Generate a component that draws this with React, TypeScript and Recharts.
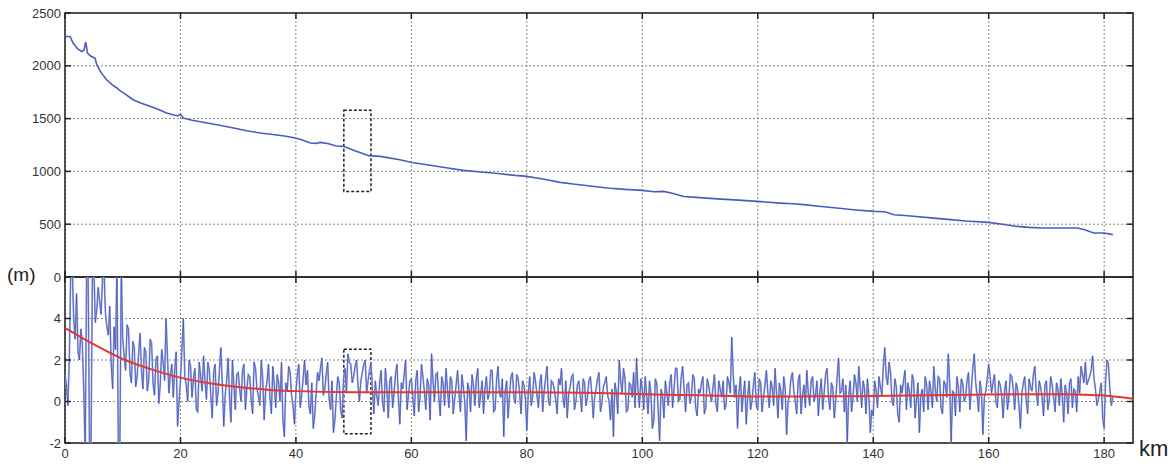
import React from 'react';
import { LineChart, Line, XAxis, YAxis, CartesianGrid, ReferenceArea } from 'recharts';

const kmTicks = [0, 20, 40, 60, 80, 100, 120, 140, 160, 180];
const elevTicks = [0, 500, 1000, 1500, 2000, 2500];
const diffTicks = [-2, 0, 2, 4, 6];

// elevation profile (m) along the route (km)
const elevKm = [0, 0.9, 1.4, 2.2, 2.9, 3.3, 3.6, 3.9, 4.5, 5.2, 5.5, 6.2, 7.2, 8.2, 9.0, 9.4, 10.5, 11.8, 13, 14.7,
  16, 17.6, 19.5, 20, 20.5, 22, 24.6, 27, 29.2, 31.5, 33.8, 36, 38, 39.9, 41, 42.5, 43.5, 44.2, 45.5, 47,
  48.2, 50, 52.6, 54.6, 58, 60.1, 63, 66, 69, 72, 75, 78, 80, 83, 85.8, 88, 91, 93.9, 97, 100,
  102, 103.7, 105, 107.2, 110, 113, 116, 119.9, 123.9, 126, 128, 131, 133.7, 137, 140.1, 142, 143.6, 146, 150, 153.4,
  156, 160, 163, 164.9, 167, 169.5, 175.3, 176.5, 178.2, 180, 181.5];
const elevM = [2280, 2275, 2216, 2160, 2136, 2150, 2225, 2120, 2090, 2074, 2010, 1940, 1868, 1820, 1790, 1770, 1730, 1679, 1650, 1616,
  1590, 1553, 1525, 1540, 1505, 1485, 1458, 1435, 1411, 1385, 1364, 1350, 1335, 1316, 1300, 1269, 1265, 1275, 1265, 1240,
  1237, 1200, 1149, 1142, 1111, 1085, 1060, 1035, 1010, 995, 980, 962, 953, 925, 896, 880, 862, 843, 830, 820,
  808, 811, 795, 763, 752, 740, 730, 716, 700, 693, 685, 668, 653, 635, 621, 618, 590, 580, 560, 543,
  530, 517, 495, 479, 470, 464, 464, 450, 417, 417, 401];

// residual (m), read every 0.5 km from 0 km
const diffStep = 0.5;
const diffM = [
  1.3, -0.2, 6.5, 4.0, 5.2, 2.0, 2.8, -2.5, 6.5, -2.5, 6.5, 4.4, 4.8, 5.9, 4.3, 3.2, 1.8, 3.6, 6.5, -2.5,
  3.0, 1.5, 3.5, 0.9, 2.6, 1.2, 3.3, 0.6, 2.4, 1.0, 2.8, 0.3, 2.2, 0.8, 1.9, 4.0, 0.4, 1.8, 1.5, -1.2,
  1.0, 4.0, 0.8, 2.0, 0.2, 1.6, -0.5, 1.2, 2.2, 0.1, 1.5, -0.8, 1.8, 0.4, 2.6, -1.2, 1.0, 0.2, 2.0, -0.4,
  1.4, 0.0, 1.8, 0.6, 1.2, -0.6, 1.6, 0.3, 2.0, -0.9, 1.0, 0.2, 1.7, -0.3, 0.9, 1.9, -1.7, 0.5, 1.4, -0.2,
  0.5, 1.8, 0.3, 2.0, 1.5, -0.6, -1.3, 0.4, 1.0, 2.1, 0.6, 1.9, -0.4, -1.5, 0.2, 0.9, -0.8, 1.6, 2.3, 1.8,
  1.2, 2.0, 0.0, 1.4, 2.0, 1.0, 1.9, -0.6, 0.3, 0.9, 0.0, 1.6, -0.8, 1.2, 0.4, 1.8, -1.1, 0.6, 2.0, 0.3,
  1.1, -0.7, 1.5, 0.2, 1.2, -0.4, 0.8, 2.3, 0.0, 1.4, -0.7, 0.9, 1.6, -0.3, 1.0, 0.1, 1.5, -0.5, 0.7, -1.9,
  0.6, 1.3, -0.2, 1.6, 0.3, -0.6, 1.2, 0.4, 1.5, -0.4, 1.7, 0.2, -1.7, 1.0, 0.3, 1.4, -0.1, 1.1, -0.6, 0.8,
  -1.4, 1.2, 0.2, 1.0, -0.3, 1.3, 0.5, 1.7, -0.2, 0.9, 0.1, 1.1, 1.6, -0.3, -0.8, 0.7, 1.3, 0.0, 1.0, -0.5,
  0.9, 0.2, 1.2, -0.8, 0.6, 1.4, -0.1, 0.9, 0.3, -0.9, -1.7, 0.5, 2.0, 0.4, 1.1, -0.4, 0.8, 1.4, 2.1, -0.3,
  0.6, 1.2, -0.6, 0.4, -0.9, 0.9, -1.9, 0.3, 1.0, -0.2, 1.3, 0.6, 1.6, 0.1, 1.7, -0.5, 0.9, 0.2, 1.1, -0.7,
  0.4, 1.2, -0.3, 0.8, 0.0, 1.3, -0.5, 0.6, 1.0, -0.2, 0.9, 3.1, 0.2, -1.3, 1.2, 0.3, -1.1, 1.0, 0.0, 1.4,
  -0.4, 0.9, 0.2, 1.5, -0.3, 0.7, 1.6, -0.8, 0.5, 1.2, -1.6, 0.3, 1.4, 0.0, 1.0, -0.6, 0.8, 1.5, -0.2, 1.2,
  0.3, -0.7, 1.1, 0.4, 1.6, -0.4, 0.7, 0.0, 2.1, 0.5, -0.5, -2.0, 1.0, 0.2, 0.9, 1.7, -0.3, 0.6, 1.1, -1.5,
  -0.7, 0.5, 1.2, 0.3, 2.6, 0.8, 1.4, -0.2, 0.7, -1.0, 0.4, 1.5, 0.9, -0.3, 1.0, 0.1, -1.5, 0.6, 1.2, -0.4,
  0.5, 1.7, 0.0, 1.1, -0.6, 0.8, 2.3, -2.0, 0.4, 1.2, -0.5, 0.9, 0.2, 1.4, 0.6, 2.3, 0.3, 1.0, -1.6, 0.5,
  1.8, 0.4, 1.3, -0.3, 0.8, -0.8, 1.0, 0.2, 1.2, -0.4, 0.6, -1.3, 0.9, 0.1, 1.1, 0.5, 1.7, -0.2, 0.7, -0.7,
  1.0, 0.1, 0.8, -0.5, 0.6, 1.1, -1.0, 0.4, 0.9, -0.3, 0.5, 1.2, 1.7, 0.9, 0.8, 1.2, 2.2, 0.6, 0.1, 0.9,
  -1.3, 2.0, 0.6, 0.2,
];
// residual (m), read between those, at 0.25 km + every 0.5 km
const diffMidM = [
  0.8, 2.0, 6.5, 3.0, 2.4, 3.5, 0.5, 6.5, -2.5, 6.5, 3.8, 5.5, 4.2, 6.5, 3.6, 4.6, 0.6, 2.5, -2.5, 6.5,
  2.2, 3.7, 1.4, 2.9, 0.7, 2.3, 1.5, 2.6, 0.5, 3.0, 0.9, 2.0, -0.1, 2.5, 1.0, 2.2, 1.3, 0.2, 2.4, 0.0,
  2.5, 1.2, 0.0, 1.7, 1.1, -0.4, 1.9, 0.5, 1.0, 1.9, 0.3, 1.4, -0.2, 1.5, 0.8, 0.3, 2.1, -1.0, 0.8, 1.3,
  0.6, 1.5, -0.4, 1.3, 0.1, 1.9, 0.6, -0.2, 1.1, 0.5, 1.8, -0.6, 0.8, 1.3, 0.0, -0.9, 0.9, 1.7, 0.3, -1.1,
  1.3, -0.3, 1.1, 0.8, -0.2, 0.9, -0.7, 1.4, 1.6, 0.3, 1.3, 0.1, 1.0, -0.9, 1.2, -0.4, 1.1, 0.4, 1.9, 0.9,
  1.7, 0.8, 1.0, 1.8, 0.4, 1.5, 0.6, 1.0, -0.2, 1.5, -0.5, 0.7, 1.0, -0.3, 1.3, 0.2, 0.9, 1.3, -0.4, 1.0,
  0.2, 1.0, -0.5, 1.8, 0.5, 1.1, -0.9, 1.0, 1.3, 0.2, 1.2, -0.2, 0.6, 1.2, -0.6, 0.8, 0.4, 1.3, 0.0, 0.9,
  -0.5, 0.8, 1.1, -0.3, 1.0, 0.6, 0.1, 1.5, -0.5, 1.0, 0.4, 1.1, 0.5, -0.8, 1.2, 0.2, 1.3, 0.4, 1.0, 0.1,
  0.4, -0.2, 1.4, 0.3, 0.9, -0.5, 1.1, 0.0, 1.0, 0.6, -0.6, 0.8, 0.2, 1.0, 0.4, 1.2, -0.4, 0.8, 0.3, 1.1,
  -0.2, 1.0, 0.4, 0.2, 1.1, -0.5, 0.7, 1.2, 0.0, 0.6, 0.9, -0.6, 1.0, 1.6, -0.5, 0.9, 0.2, -0.3, 0.6, 1.1,
  -0.4, 0.3, 1.0, -1.3, 1.1, -0.4, 0.6, -0.8, 0.4, 0.9, -0.3, 1.6, 0.0, 1.2, 0.5, 0.8, -0.1, 1.3, -0.3, 0.6,
  0.9, -0.6, 1.1, 0.3, 0.7, -0.1, 1.0, 0.2, -0.4, 1.2, 0.4, 1.3, 0.8, 0.5, -0.5, 1.0, 0.2, -0.4, 0.8, -0.2,
  1.1, -0.5, 0.8, 0.4, 1.0, -0.2, 0.4, 0.9, -0.4, 0.6, 0.0, 1.1, 0.5, -0.6, 1.3, 0.3, -0.3, 0.4, 1.0, 0.0,
  1.0, 0.4, -0.4, 1.3, 0.2, 0.9, -0.8, 1.2, 0.4, 1.1, 0.8, 0.3, -0.5, 1.3, 0.0, 0.7, 1.0, -0.6, 0.3, -0.4,
  1.0, -0.3, 0.7, 1.7, 1.2, 1.9, 0.0, 1.1, -0.6, 0.8, 1.0, -0.4, 0.5, 1.3, -0.8, 0.9, 0.3, -0.5, 0.8, 1.0,
  -0.3, 0.6, 1.2, -0.3, 1.0, 0.2, 0.9, 0.5, -0.7, 0.7, 1.1, 0.0, 1.0, -0.4, 1.6, 0.9, -0.5, 0.5, 0.2, 1.1,
  1.2, 0.9, 0.0, 1.0, 0.3, 0.5, -0.4, 1.3, 0.6, 0.9, -0.2, 0.4, 1.2, -0.6, 0.7, 1.3, 0.4, 1.0, 0.2, 0.8,
  -0.4, 1.2, 0.2, 0.9, -0.2, 0.3, 0.8, -0.6, 1.1, 0.6, -0.5, 0.4, 1.3, 1.9, 1.0, 1.5, 1.1, -0.2, 0.5, -0.8,
  1.0, 1.8, -0.2,
];

// fitted trend of the residual
const trendKm = [0, 5, 10, 15, 20, 25, 30, 35, 40, 50, 60, 80, 90, 100, 110, 120, 130, 140, 150, 160, 170, 175, 180, 185];
const trendM = [3.55, 2.75, 2.05, 1.55, 1.15, 0.88, 0.7, 0.57, 0.5, 0.45, 0.44, 0.44, 0.42, 0.35, 0.3, 0.24, 0.25, 0.26, 0.3, 0.34, 0.35, 0.34, 0.29, 0.13];

// highlighted section
const boxKm = [48.3, 53];
const boxElev = [810, 1578];
const boxDiff = [-1.56, 2.52];

const elevData = elevKm.map((km, i) => ({ km, v: elevM[i] }));
const diffData: { km: number; v: number }[] = [];
diffM.forEach((v, i) => {
  diffData.push({ km: i * diffStep, v });
  if (i < diffMidM.length) diffData.push({ km: i * diffStep + diffStep / 2, v: diffMidM[i] });
});
const trendData = trendKm.map((km, i) => ({ km, v: trendM[i] }));

const font = "'Liberation Sans', Arial, sans-serif";
const PLOT_L = 65;
const PLOT_R = 1133;
const ink = '#222';

const xTick = (top: number, bottom: number, labels: boolean) => (props: any) => {
  const { x, payload } = props;
  return (
    <g>
      <line x1={x} x2={x} y1={top} y2={top + 6} stroke={ink} strokeWidth={1.5} />
      <line x1={x} x2={x} y1={bottom} y2={bottom - 6} stroke={ink} strokeWidth={1.5} />
      {labels && (
        <text x={x} y={bottom + 15} textAnchor="middle" fontFamily={font} fontSize={13} fill="#333">
          {payload.value}
        </text>
      )}
    </g>
  );
};

const yTick = (hide: (v: number) => boolean) => (props: any) => {
  const { y, payload } = props;
  return (
    <g>
      <line x1={PLOT_L} x2={PLOT_L + 6} y1={y} y2={y} stroke={ink} strokeWidth={1.5} />
      <line x1={PLOT_R - 6} x2={PLOT_R} y1={y} y2={y} stroke={ink} strokeWidth={1.5} />
      {!hide(payload.value) && (
        <text x={PLOT_L - 4} y={y} dy="0.35em" textAnchor="end" fontFamily={font} fontSize={13} fill="#333">
          {payload.value}
        </text>
      )}
    </g>
  );
};

export default function App() {
  return (
    <div style={{ position: 'absolute', left: 0, top: 0, width: 1175, height: 464, background: '#fff', overflow: 'hidden' }}>
      {/* elevation profile */}
      <div style={{ position: 'absolute', left: 0, top: 0 }}>
        <LineChart width={1175} height={290} margin={{ top: 13, right: 42, bottom: 0, left: 0 }}>
          <CartesianGrid stroke="#888" strokeDasharray="2 2" />
          <XAxis dataKey="km" type="number" domain={[0, 185]} ticks={kmTicks} height={13} interval={0}
            axisLine={false} tickLine={false} tick={xTick(13, 277, false)} allowDataOverflow />
          <YAxis type="number" domain={[0, 2500]} ticks={elevTicks} width={65} interval={0}
            axisLine={false} tickLine={false} tick={yTick(() => false)} allowDataOverflow />
          <Line data={elevData} dataKey="v" type="linear" stroke="#4a5cc0" strokeWidth={1.6} dot={false} isAnimationActive={false} />
          <ReferenceArea x1={boxKm[0]} x2={boxKm[1]} y1={boxElev[0]} y2={boxElev[1]} fill="none" stroke={ink} strokeWidth={1.5} strokeDasharray="3 2" />
          <ReferenceArea x1={0} x2={185} y1={0} y2={2500} fill="none" stroke={ink} strokeWidth={1.5} />
        </LineChart>
      </div>

      {/* residual */}
      <div style={{ position: 'absolute', left: 0, top: 270 }}>
        <LineChart width={1175} height={194} margin={{ top: 7, right: 42, bottom: 0, left: 0 }}>
          <CartesianGrid stroke="#888" strokeDasharray="2 2" />
          <XAxis dataKey="km" type="number" domain={[0, 185]} ticks={kmTicks} height={21} interval={0}
            axisLine={false} tickLine={false} tick={xTick(7, 173, true)} allowDataOverflow />
          <YAxis type="number" domain={[-2, 6]} ticks={diffTicks} width={65} interval={0}
            axisLine={false} tickLine={false} tick={yTick((v) => v === 6)} allowDataOverflow />
          <Line data={diffData} dataKey="v" type="linear" stroke="#a3aee2" strokeWidth={1.8} dot={false} isAnimationActive={false} />
          <Line data={diffData} dataKey="v" type="linear" stroke="#3a4bb0" strokeWidth={0.7} dot={false} isAnimationActive={false} />
          <Line data={trendData} dataKey="v" type="monotone" stroke="#e5382d" strokeWidth={2} dot={false} isAnimationActive={false} />
          <ReferenceArea x1={boxKm[0]} x2={boxKm[1]} y1={boxDiff[0]} y2={boxDiff[1]} fill="none" stroke={ink} strokeWidth={1.5} strokeDasharray="3 2" />
          <ReferenceArea x1={0} x2={185} y1={-2} y2={6} fill="none" stroke={ink} strokeWidth={1.5} />
        </LineChart>
      </div>

      <div style={{ position: 'absolute', left: 7, top: 264, fontFamily: font, fontSize: 19, color: '#222' }}>(m)</div>
      <div style={{ position: 'absolute', left: 1139, top: 436, fontFamily: font, fontSize: 22, color: '#222' }}>km</div>
    </div>
  );
}
